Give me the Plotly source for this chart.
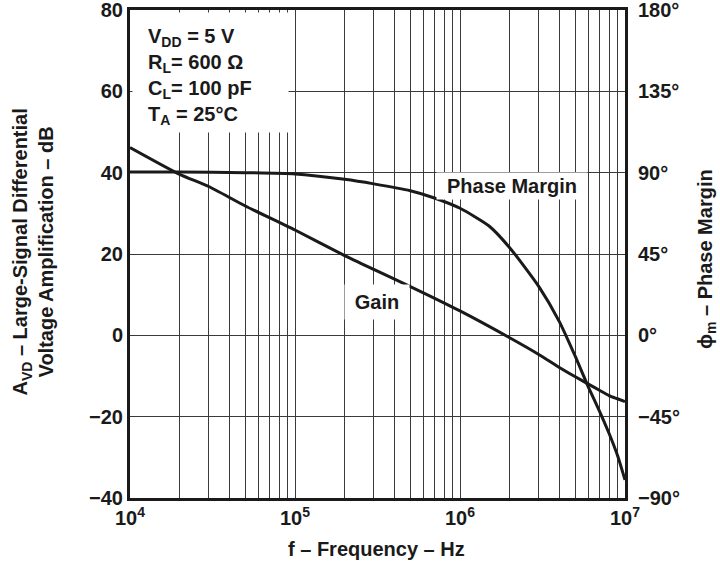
import plotly.graph_objects as go

# ---- data ----
gain_freq_hz = [1e4, 2e4, 3e4, 5e4, 1e5, 2e5, 3e5, 5e5, 1e6, 2e6, 3e6, 4e6, 5e6, 6e6, 7e6, 8e6, 9e6, 1e7]
gain_db = [46.2, 39.6, 36.6, 31.8, 25.9, 19.6, 16.2, 12.0, 6.0, -0.6, -4.7, -7.9, -10.2, -12.0, -13.5, -14.8, -15.6, -16.3]

phase_freq_hz = [1e4, 2e4, 5e4, 1e5, 2e5, 3e5, 5e5, 7e5, 1e6, 1.5e6, 2e6, 3e6, 4e6, 5e6, 6e6, 7e6, 8e6, 9e6, 1e7]
phase_deg = [90.3, 90.3, 90.0, 89.3, 86.3, 83.8, 80.0, 76.0, 70.3, 60.5, 48.5, 27.1, 7.6, -11.7, -28.6, -41.9, -54.2, -66.4, -80.0]

x_grid_vals = [m * 10 ** e for e in (4, 5, 6) for m in range(1, 10)] + [1e7]
x_tick_text = ["10<sup>%d</sup>" % e if m == 1 else "" for e in (4, 5, 6) for m in range(1, 10)] + ["10<sup>7</sup>"]

y_tick_vals = [-40, -20, 0, 20, 40, 60, 80]
y_tick_text = ["\u221240", "\u221220", "0", "20", "40", "60", "80"]

y2_tick_vals = [-90, -45, 0, 45, 90, 135, 180]
y2_tick_text = ["\u221290\u00b0", "\u221245\u00b0", "0\u00b0", "45\u00b0", "90\u00b0", "135\u00b0", "180\u00b0"]

FONT = "Liberation Sans, Arial, sans-serif"
INK = "#1a1a1a"
GRID = "#3a3a3a"
FS = 20

fig = go.Figure()
fig.add_trace(go.Scatter(x=gain_freq_hz, y=gain_db, mode="lines",
                         line=dict(color=INK, width=3, shape="spline", smoothing=0.6),
                         name="Gain", showlegend=False, hoverinfo="skip"))
fig.add_trace(go.Scatter(x=phase_freq_hz, y=phase_deg, mode="lines", yaxis="y2",
                         line=dict(color=INK, width=3, shape="spline", smoothing=0.6),
                         name="Phase Margin", showlegend=False, hoverinfo="skip"))

fig.update_layout(
    width=720, height=562,
    margin=dict(l=130, r=95, t=10, b=64, autoexpand=False),
    paper_bgcolor="white", plot_bgcolor="white",
    font=dict(family=FONT, size=FS, color=INK, weight="bold"),
    xaxis=dict(type="log", range=[4, 7], tickvals=x_grid_vals, ticktext=x_tick_text,
               showgrid=True, gridcolor=GRID, gridwidth=1.2,
               showline=True, linecolor=INK, linewidth=3, mirror=True,
               ticks="", zeroline=False, ticklabeloverflow="allow",
               tickfont=dict(family=FONT, size=FS, color=INK, weight="bold")),
    yaxis=dict(range=[-40, 80], tickvals=y_tick_vals, ticktext=y_tick_text,
               showgrid=True, gridcolor=GRID, gridwidth=1.2, zeroline=False,
               showline=True, linecolor=INK, linewidth=3, mirror=True,
               ticks="", ticklabeloverflow="allow",
               tickfont=dict(family=FONT, size=FS, color=INK, weight="bold")),
    yaxis2=dict(range=[-90, 180], overlaying="y", side="right",
                tickvals=y2_tick_vals, ticktext=y2_tick_text,
                showgrid=False, zeroline=False, showline=False,
                ticks="outside", ticklen=8, tickcolor="rgba(0,0,0,0)",
                ticklabeloverflow="allow",
                tickfont=dict(family=FONT, size=FS, color=INK, weight="bold")),
)

# white box behind the conditions text (hides grid lines)
fig.add_annotation(xref="paper", yref="paper", x=0.004, y=0.996, xanchor="left", yanchor="top",
                   showarrow=False, text=" ", bgcolor="white", width=155, height=119, borderpad=0)

fig.add_annotation(xref="paper", yref="paper", x=0.032, y=0.974, xanchor="left", yanchor="top",
                   align="left", showarrow=False,
                   text="V<sub>DD</sub> = 5 V<br>R<sub>L</sub>= 600 \u03a9<br>C<sub>L</sub>= 100 pF<br>T<sub>A</sub> = 25\u00b0C",
                   font=dict(family=FONT, size=FS, color=INK, weight="bold"))

fig.add_annotation(xref="paper", yref="paper", x=0.772, y=0.640, xanchor="center", yanchor="middle",
                   showarrow=False, text="Phase Margin", bgcolor="white",
                   width=148, height=24, borderpad=1,
                   font=dict(family=FONT, size=FS, color=INK, weight="bold"))

fig.add_annotation(xref="paper", yref="paper", x=0.499, y=0.402, xanchor="center", yanchor="middle",
                   showarrow=False, text="Gain", bgcolor="white",
                   width=62, height=32, borderpad=1,
                   font=dict(family=FONT, size=FS, color=INK, weight="bold"))

# axis titles
fig.add_annotation(xref="paper", yref="paper", x=-0.196, y=0.505, xanchor="center", yanchor="middle",
                   showarrow=False, textangle=-90,
                   text="A<sub>VD</sub> \u2013 Large-Signal Differential<br>Voltage Amplification \u2013 dB",
                   font=dict(family=FONT, size=FS, color=INK, weight="bold"))
fig.add_annotation(xref="paper", yref="paper", x=1.166, y=0.49, xanchor="center", yanchor="middle",
                   showarrow=False, textangle=-90,
                   text="\u03d5<sub>m</sub> \u2013 Phase Margin",
                   font=dict(family=FONT, size=FS, color=INK, weight="bold"))
fig.add_annotation(xref="paper", yref="paper", x=0.497, y=-0.105, xanchor="center", yanchor="middle",
                   showarrow=False, text="f \u2013 Frequency \u2013 Hz",
                   font=dict(family=FONT, size=FS, color=INK, weight="bold"))

fig.write_html("out.html", config={"displayModeBar": False},
               post_script="document.body.style.margin='0';")
